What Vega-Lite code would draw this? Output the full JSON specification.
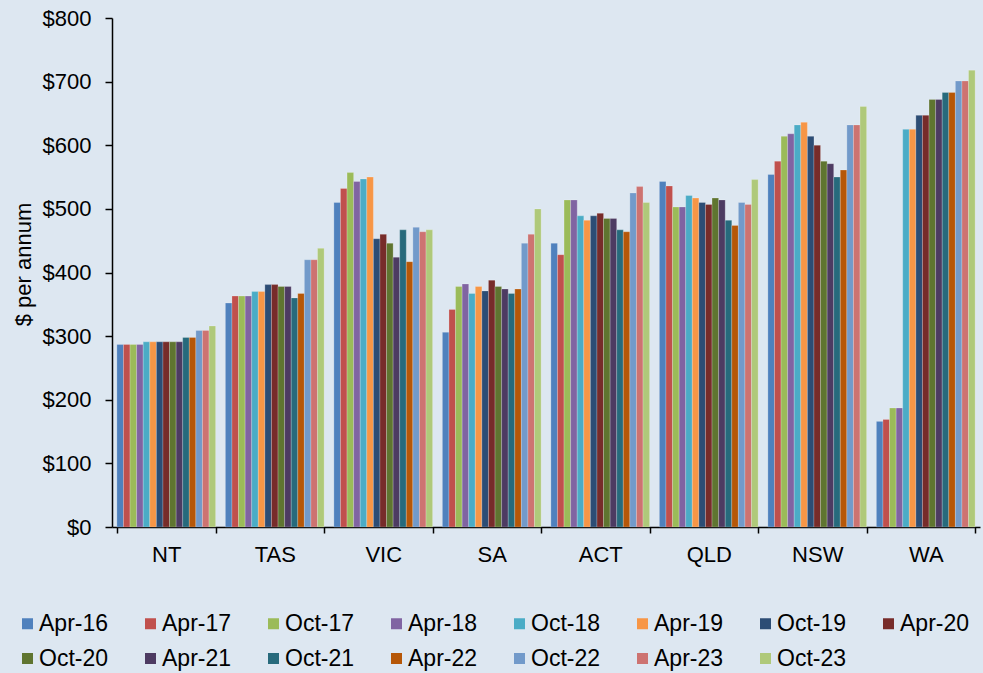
{
  "$schema": "https://vega.github.io/schema/vega-lite/v6.json",
  "autosize": {"type": "none"},
  "padding": {"left": 112, "top": 18, "right": 3, "bottom": 146},
  "width": 868,
  "height": 509,
  "background": "#dde7f1",
  "config": {"view": {"stroke": null}, "font": "Liberation Sans"},
  "data": {"values": [
    {"state":"NT","period":"Apr-16","value":287},{"state":"NT","period":"Apr-17","value":287},{"state":"NT","period":"Oct-17","value":287},{"state":"NT","period":"Apr-18","value":287},{"state":"NT","period":"Oct-18","value":291},{"state":"NT","period":"Apr-19","value":291},{"state":"NT","period":"Oct-19","value":291},{"state":"NT","period":"Apr-20","value":291},{"state":"NT","period":"Oct-20","value":291},{"state":"NT","period":"Apr-21","value":291},{"state":"NT","period":"Oct-21","value":298},{"state":"NT","period":"Apr-22","value":298},{"state":"NT","period":"Oct-22","value":309},{"state":"NT","period":"Apr-23","value":309},{"state":"NT","period":"Oct-23","value":316},
    {"state":"TAS","period":"Apr-16","value":352},{"state":"TAS","period":"Apr-17","value":363},{"state":"TAS","period":"Oct-17","value":363},{"state":"TAS","period":"Apr-18","value":363},{"state":"TAS","period":"Oct-18","value":370},{"state":"TAS","period":"Apr-19","value":370},{"state":"TAS","period":"Oct-19","value":381},{"state":"TAS","period":"Apr-20","value":381},{"state":"TAS","period":"Oct-20","value":378},{"state":"TAS","period":"Apr-21","value":378},{"state":"TAS","period":"Oct-21","value":360},{"state":"TAS","period":"Apr-22","value":367},{"state":"TAS","period":"Oct-22","value":420},{"state":"TAS","period":"Apr-23","value":420},{"state":"TAS","period":"Oct-23","value":438},
    {"state":"VIC","period":"Apr-16","value":510},{"state":"VIC","period":"Apr-17","value":532},{"state":"VIC","period":"Oct-17","value":557},{"state":"VIC","period":"Apr-18","value":543},{"state":"VIC","period":"Oct-18","value":547},{"state":"VIC","period":"Apr-19","value":550},{"state":"VIC","period":"Oct-19","value":453},{"state":"VIC","period":"Apr-20","value":460},{"state":"VIC","period":"Oct-20","value":446},{"state":"VIC","period":"Apr-21","value":424},{"state":"VIC","period":"Oct-21","value":467},{"state":"VIC","period":"Apr-22","value":417},{"state":"VIC","period":"Oct-22","value":471},{"state":"VIC","period":"Apr-23","value":464},{"state":"VIC","period":"Oct-23","value":467},
    {"state":"SA","period":"Apr-16","value":306},{"state":"SA","period":"Apr-17","value":342},{"state":"SA","period":"Oct-17","value":378},{"state":"SA","period":"Apr-18","value":382},{"state":"SA","period":"Oct-18","value":367},{"state":"SA","period":"Apr-19","value":378},{"state":"SA","period":"Oct-19","value":371},{"state":"SA","period":"Apr-20","value":388},{"state":"SA","period":"Oct-20","value":378},{"state":"SA","period":"Apr-21","value":374},{"state":"SA","period":"Oct-21","value":367},{"state":"SA","period":"Apr-22","value":374},{"state":"SA","period":"Oct-22","value":446},{"state":"SA","period":"Apr-23","value":460},{"state":"SA","period":"Oct-23","value":500},
    {"state":"ACT","period":"Apr-16","value":446},{"state":"ACT","period":"Apr-17","value":428},{"state":"ACT","period":"Oct-17","value":514},{"state":"ACT","period":"Apr-18","value":514},{"state":"ACT","period":"Oct-18","value":489},{"state":"ACT","period":"Apr-19","value":482},{"state":"ACT","period":"Oct-19","value":489},{"state":"ACT","period":"Apr-20","value":493},{"state":"ACT","period":"Oct-20","value":485},{"state":"ACT","period":"Apr-21","value":485},{"state":"ACT","period":"Oct-21","value":467},{"state":"ACT","period":"Apr-22","value":464},{"state":"ACT","period":"Oct-22","value":525},{"state":"ACT","period":"Apr-23","value":535},{"state":"ACT","period":"Oct-23","value":510},
    {"state":"QLD","period":"Apr-16","value":543},{"state":"QLD","period":"Apr-17","value":536},{"state":"QLD","period":"Oct-17","value":503},{"state":"QLD","period":"Apr-18","value":503},{"state":"QLD","period":"Oct-18","value":521},{"state":"QLD","period":"Apr-19","value":517},{"state":"QLD","period":"Oct-19","value":510},{"state":"QLD","period":"Apr-20","value":507},{"state":"QLD","period":"Oct-20","value":517},{"state":"QLD","period":"Apr-21","value":514},{"state":"QLD","period":"Oct-21","value":482},{"state":"QLD","period":"Apr-22","value":474},{"state":"QLD","period":"Oct-22","value":510},{"state":"QLD","period":"Apr-23","value":507},{"state":"QLD","period":"Oct-23","value":546},
    {"state":"NSW","period":"Apr-16","value":554},{"state":"NSW","period":"Apr-17","value":575},{"state":"NSW","period":"Oct-17","value":614},{"state":"NSW","period":"Apr-18","value":618},{"state":"NSW","period":"Oct-18","value":632},{"state":"NSW","period":"Apr-19","value":636},{"state":"NSW","period":"Oct-19","value":614},{"state":"NSW","period":"Apr-20","value":600},{"state":"NSW","period":"Oct-20","value":575},{"state":"NSW","period":"Apr-21","value":571},{"state":"NSW","period":"Oct-21","value":550},{"state":"NSW","period":"Apr-22","value":561},{"state":"NSW","period":"Oct-22","value":632},{"state":"NSW","period":"Apr-23","value":632},{"state":"NSW","period":"Oct-23","value":661},
    {"state":"WA","period":"Apr-16","value":166},{"state":"WA","period":"Apr-17","value":169},{"state":"WA","period":"Oct-17","value":187},{"state":"WA","period":"Apr-18","value":187},{"state":"WA","period":"Oct-18","value":625},{"state":"WA","period":"Apr-19","value":625},{"state":"WA","period":"Oct-19","value":647},{"state":"WA","period":"Apr-20","value":647},{"state":"WA","period":"Oct-20","value":672},{"state":"WA","period":"Apr-21","value":672},{"state":"WA","period":"Oct-21","value":683},{"state":"WA","period":"Apr-22","value":683},{"state":"WA","period":"Oct-22","value":701},{"state":"WA","period":"Apr-23","value":701},{"state":"WA","period":"Oct-23","value":718}
  ]},
  "mark": {"type": "bar", "stroke": "white", "strokeWidth": 0.6, "strokeOpacity": 0.35},
  "encoding": {
    "x": {
      "field": "state", "type": "nominal",
      "sort": ["NT","TAS","VIC","SA","ACT","QLD","NSW","WA"],
      "scale": {"paddingInner": 0.09, "paddingOuter": 0.045},
      "axis": {
        "title": null, "labelAngle": 0, "tickBand": "extent",
        "domainColor": "black", "domainWidth": 1.5, "tickColor": "black", "tickWidth": 1.5, "tickSize": 6,
        "labelFontSize": 22, "labelColor": "black", "labelPadding": 11
      }
    },
    "xOffset": {
      "field": "period", "type": "nominal",
      "sort": ["Apr-16","Apr-17","Oct-17","Apr-18","Oct-18","Apr-19","Oct-19","Apr-20","Oct-20","Apr-21","Oct-21","Apr-22","Oct-22","Apr-23","Oct-23"],
      "scale": {"paddingInner": 0, "paddingOuter": 0}
    },
    "y": {
      "field": "value", "type": "quantitative",
      "scale": {"domain": [0, 800], "nice": false},
      "axis": {
        "title": "$ per annum", "titleFontSize": 22, "titleFontWeight": "normal", "titleColor": "black", "titlePadding": 7, "titleY": 246,
        "values": [0,100,200,300,400,500,600,700,800], "labelExpr": "'$' + datum.value",
        "grid": false, "domainColor": "black", "domainWidth": 1.5, "tickColor": "black", "tickWidth": 1.5, "tickSize": 7,
        "labelFontSize": 22, "labelColor": "black", "labelPadding": 14
      }
    },
    "color": {
      "field": "period", "type": "nominal",
      "scale": {
        "domain": ["Apr-16","Apr-17","Oct-17","Apr-18","Oct-18","Apr-19","Oct-19","Apr-20","Oct-20","Apr-21","Oct-21","Apr-22","Oct-22","Apr-23","Oct-23"],
        "range": ["#4F81BD","#C0504D","#9BBB59","#8064A2","#4BACC6","#F79646","#2C4D75","#772C2A","#5F7530","#4D3B62","#276A7C","#B65708","#729ACA","#CD7371","#AFC97A"]
      },
      "legend": {
        "title": null, "orient": "none", "legendX": -96, "legendY": 594,
        "direction": "horizontal", "columns": 8, "symbolType": "square", "symbolSize": 121,
        "symbolStrokeWidth": 0, "labelFontSize": 23, "labelColor": "black", "labelOffset": 0,
        "columnPadding": 30, "rowPadding": 11, "labelLimit": 200
      }
    }
  }
}
